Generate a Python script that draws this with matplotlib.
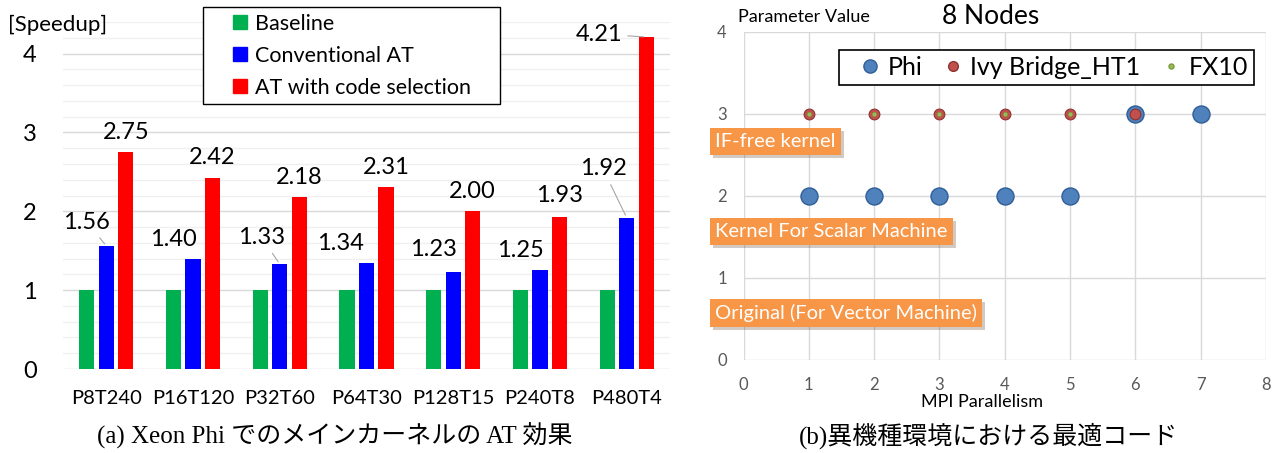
import numpy as np
import matplotlib.pyplot as plt
from matplotlib.lines import Line2D
from matplotlib import patheffects as pe

plt.rcParams['font.family'] = ['Lato', 'DejaVu Sans']

# ---- data: (a) speedup of main kernel on Xeon Phi
configs = ["P8T240", "P16T120", "P32T60", "P64T30", "P128T15", "P240T8", "P480T4"]
baseline = [1, 1, 1, 1, 1, 1, 1]
conventional_at = [1.56, 1.40, 1.33, 1.34, 1.23, 1.25, 1.92]
code_selection_at = [2.75, 2.42, 2.18, 2.31, 2.00, 1.93, 4.21]

# ---- data: (b) best code per machine (8 nodes)
phi_x = [1, 2, 3, 4, 5, 6, 7]
phi_y = [2, 2, 2, 2, 2, 3, 3]
ivy_x = [1, 2, 3, 4, 5, 6]
ivy_y = [3, 3, 3, 3, 3, 3]
fx10_x = [1, 2, 3, 4, 5]
fx10_y = [3, 3, 3, 3, 3]
kernel_names = ["IF-free kernel", "Kernel For Scalar Machine", "Original (For Vector Machine)"]

# label placement (points / data units)
blue_off = [(-14, 17), (-14, 14), (-13, 19), (-19, 14), (-14, 16), (-14, 14), (-17, 35)]
red_off = [(0, 14), (0, 15), (0, 14), (0, 14), (0, 14), (0, 15), (-34, 2)]
blue_leader = [True, False, True, False, False, False, True]
red_leader = [False, False, False, False, False, False, True]
kernel_box_y = [2.66, 1.57, 0.57]

fig = plt.figure(figsize=(12.8, 4.53), dpi=100)
W, H = 1280, 453

# ================= left chart =================
ax = fig.add_axes([63 / W, 1 - 369 / H, 607 / W, 347 / H])
x = np.arange(len(configs))
off = 0.225
bw = 0.175
ax.bar(x - off, baseline, bw, color="#00B050", label="Baseline", zorder=3)
bb = ax.bar(x, conventional_at, bw, color="#0000FF", label="Conventional AT", zorder=3)
rb = ax.bar(x + off, code_selection_at, bw, color="#FF0000", label="AT with code selection", zorder=3)

ax.set_xlim(-0.5, len(configs) - 0.5)
ax.set_ylim(0, 4.4)
ax.set_yticks([0, 1, 2, 3, 4])
ax.set_yticks(np.arange(0, 4.41, 0.2), minor=True)
ax.grid(axis="y", which="minor", color="#F0F0F0", lw=1, zorder=0)
ax.grid(axis="y", which="major", color="#D9D9D9", lw=1, zorder=1)
ax.set_xticks(x)
ax.set_xticklabels(configs, fontsize=14.5)
ax.tick_params(axis="y", labelsize=17, length=0, pad=19, which="both")
ax.tick_params(axis="x", length=0, pad=15)
for s in ax.spines.values():
    s.set_visible(False)

def label_bars(bars, vals, offs, leaders):
    for b, v, o, ld in zip(bars, vals, offs, leaders):
        cx = b.get_x() + b.get_width() / 2
        ap = dict(arrowstyle="-", color="#A6A6A6", lw=0.8) if ld else None
        ax.annotate(f"{v:.2f}", (cx, v), xytext=o, textcoords="offset points",
                    ha="center", va="center", fontsize=17, arrowprops=ap, zorder=5)

label_bars(bb, conventional_at, blue_off, blue_leader)
label_bars(rb, code_selection_at, red_off, red_leader)

handles = [Line2D([], [], marker="s", ls="none", ms=10.5, color=c)
           for c in ["#00B050", "#0000FF", "#FF0000"]]
leg = ax.legend(handles, ["Baseline", "Conventional AT", "AT with code selection"],
                loc="upper left", bbox_to_anchor=(203 / W, 1 - 102 / H, 297 / W, 95 / H),
                bbox_transform=fig.transFigure, mode="expand", borderaxespad=0,
                fontsize=15.5, borderpad=0.32, handlelength=2.84, handletextpad=-0.75,
                labelspacing=0.55, fancybox=False, framealpha=1, edgecolor="black")
leg.get_frame().set_linewidth(1.0)

fig.text(8 / W, 1 - 25 / H, "[Speedup]", ha="left", va="center", fontsize=16)

# ================= right chart =================
ax2 = fig.add_axes([743.5 / W, 1 - 360 / H, 522.5 / W, 328 / H])
ax2.set_xlim(0, 8)
ax2.set_ylim(0, 4)
ax2.set_xticks(range(9))
ax2.set_yticks(range(5))
ax2.grid(True, color="#D9D9D9", lw=1, zorder=0)
for s in ax2.spines.values():
    s.set_visible(False)
ax2.tick_params(length=0, labelsize=12, labelcolor="#595959", pad=12)

ax2.scatter(phi_x, phi_y, s=150, color="#4F81BD", edgecolor="#2F5E97", lw=1, zorder=3)
ax2.scatter(ivy_x, ivy_y, s=60, color="#C0504D", edgecolor="#8E3330", lw=0.8, zorder=4)
ax2.scatter(fx10_x, fx10_y, s=10, color="#9BBB59", edgecolor="#7A9A3B", lw=0.5, zorder=5)

for name, yb in zip(kernel_names, kernel_box_y):
    t = ax2.text(-0.43, yb, name, ha="left", va="center", fontsize=14.5,
                 color="white", clip_on=False, zorder=6,
                 bbox=dict(boxstyle="square,pad=0.25", fc="#F79646", ec="none"))
    t.get_bbox_patch().set_path_effects([pe.SimplePatchShadow(offset=(2, -2), alpha=0.25),
                                         pe.Normal()])

h2 = [Line2D([], [], marker="o", ls="none", ms=9.5, color="#4F81BD", mec="#2F5E97"),
      Line2D([], [], marker="o", ls="none", ms=7, color="#C0504D", mec="#8E3330"),
      Line2D([], [], marker="o", ls="none", ms=3.6, color="#9BBB59", mec="#7A9A3B")]
leg2 = ax2.legend(h2, ["Phi", "Ivy Bridge_HT1", "FX10"], ncol=3,
                  loc="upper left", bbox_to_anchor=(839 / W, 1 - 94 / H, 415 / W, 44 / H),
                  bbox_transform=fig.transFigure, mode="expand", borderaxespad=0,
                  fontsize=18, borderpad=0.25, handlelength=2.0, handletextpad=-0.3,
                  columnspacing=0.5, fancybox=False, framealpha=1, edgecolor="black")
leg2.get_frame().set_linewidth(1.2)
leg2.set_zorder(7)

ax2.set_xlabel("MPI Parallelism", fontsize=13)
ax2.xaxis.set_label_coords((982 - 743.5) / 522.5, -0.105)
fig.text(738 / W, 1 - 17 / H, "Parameter Value", ha="left", va="center", fontsize=13)
fig.text(991 / W, 1 - 17 / H, "8 Nodes", ha="center", va="center", fontsize=19)

# ================= captions =================
cap_font = ["Liberation Serif", "Noto Sans CJK JP"]
fig.text(335 / W, 1 - 436 / H, "(a) Xeon Phi でのメインカーネルの AT 効果",
         ha="center", va="center", fontsize=18, family=cap_font)
fig.text(988 / W, 1 - 436 / H, "(b)異機種環境における最適コード",
         ha="center", va="center", fontsize=18, family=cap_font)

fig.savefig("out.png", dpi=100)
